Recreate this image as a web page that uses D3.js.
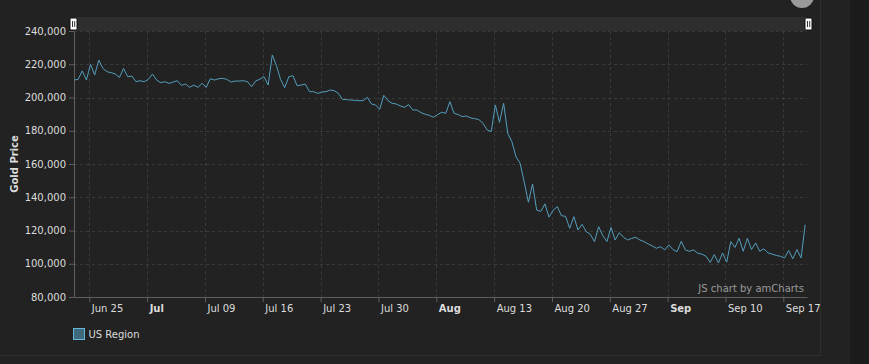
<!DOCTYPE html>
<svg width="869" height="364"></svg>
<style>
  body { margin: 0; background: #222; }
  svg { display: block; font-family: "DejaVu Sans", Verdana, sans-serif; }
</style>
<script src="https://d3js.org/d3.v7.min.js"></script>
<script>

// one reading every 12 hours, starting on the morning of Jun 23
var startDate = new Date(2018, 5, 23, 3, 33);
var endDate = new Date(2018, 8, 19, 20, 50);
var stepHours = 12;

var usRegion = [
  210500, 210900, 216000, 210500, 220000, 213500, 222500, 217500, 215500, 214900,
  214100, 212100, 217500, 212500, 212900, 209500, 210100, 209500, 210900, 214100,
  210500, 208900, 209500, 208500, 209300, 210100, 207300, 208100, 206100, 207500,
  206100, 208500, 206100, 211300, 210500, 211300, 211500, 210900, 209300, 209900,
  209900, 210100, 209500, 206500, 210000, 211000, 212500, 207500, 225600, 219200,
  210900, 205900, 212500, 213100, 207100, 207500, 208100, 203500, 203500, 202500,
  203300, 203500, 204500, 204100, 202500, 198900, 198700, 198500, 198300, 198100,
  198100, 200100, 196100, 195500, 192900, 201300, 198100, 196500, 196100, 194900,
  194100, 195700, 192500, 192500, 190900, 189900, 189300, 188100, 189700, 191100,
  190500, 197500, 190500, 189700, 188500, 188900, 187700, 187300, 186700, 184500,
  180500, 179500, 195500, 185000, 196500, 178400, 173400, 164400, 160400, 149000,
  137000, 148000, 132300, 131500, 136000, 128000, 132300, 134300, 128900, 128500,
  121300, 128300, 120300, 123700, 119300, 117700, 113300, 122300, 117000, 113300,
  121800, 114300, 118700, 116000, 114300, 115300, 115900, 114300, 113300, 111900,
  110700, 109300, 110300, 108300, 111300, 108500, 107300, 113500, 108300, 107500,
  108300, 106300, 105800, 104500, 100800, 105500, 100500, 106500, 101000, 113300,
  109800, 115300, 107500, 115300, 108500, 112500, 107500, 109000, 106500, 105800,
  105000, 104500, 103500, 108000, 103000, 108500, 103500, 123500
];

var yTicks = [80000, 100000, 120000, 140000, 160000, 180000, 200000, 220000, 240000];

var tickDates = ["2018-06-25", "2018-07-02", "2018-07-09", "2018-07-16", "2018-07-23",
  "2018-07-30", "2018-08-06", "2018-08-13", "2018-08-20", "2018-08-27",
  "2018-09-03", "2018-09-10", "2018-09-17"];
var tickLabels = ["Jun 25", "Jul", "Jul 09", "Jul 16", "Jul 23", "Jul 30", "Aug",
  "Aug 13", "Aug 20", "Aug 27", "Sep", "Sep 10", "Sep 17"];
var monthLabels = ["Jul", "Aug", "Sep"];

var svg = d3.select("svg"),
    margin = {top: 31, right: 62, bottom: 67, left: 74},
    width = +svg.attr("width") - margin.left - margin.right,
    height = +svg.attr("height") - margin.top - margin.bottom;

var parseDay = d3.timeParse("%Y-%m-%d");

var data = usRegion.map(function(v, i) {
  return {date: new Date(+startDate + i * stepHours * 3600 * 1000), value: v};
});

// page background and panel frame
svg.append("rect").attr("width", 869).attr("height", 364).attr("fill", "#222");
svg.append("rect").attr("x", 850).attr("width", 19).attr("height", 364).attr("fill", "#1b1b1b");
svg.append("line").attr("x1", 820.5).attr("x2", 820.5).attr("y1", 0).attr("y2", 355.5)
    .attr("stroke", "#2f2f2f");
svg.append("line").attr("x1", 0).attr("x2", 820.5).attr("y1", 355.5).attr("y2", 355.5)
    .attr("stroke", "#2f2f2f");
svg.append("circle").attr("cx", 802).attr("cy", -4).attr("r", 12).attr("fill", "#9a9a9a");

var g = svg.append("g").attr("transform", "translate(" + margin.left + "," + margin.top + ")");

var x = d3.scaleTime()
    .domain([startDate, endDate])
    .range([0, width]);

var y = d3.scaleLinear()
    .domain([80000, 240000])
    .range([height, 0]);

// scrollbar band
g.append("rect")
    .attr("x", 0).attr("y", -14)
    .attr("width", width).attr("height", 14)
    .attr("fill", "#2e2e2e");

// grid
g.append("g")
    .selectAll("line")
    .data(yTicks.filter(function(d) { return d > 80000; }))
    .enter().append("line")
    .attr("x1", 0).attr("x2", width)
    .attr("y1", function(d) { return Math.round(y(d)) + 0.5; })
    .attr("y2", function(d) { return Math.round(y(d)) + 0.5; })
    .attr("stroke", "#3a3a3a")
    .attr("stroke-dasharray", "3,3");

g.append("g")
    .selectAll("line")
    .data(tickDates)
    .enter().append("line")
    .attr("x1", function(d) { return Math.round(x(parseDay(d))) + 0.5; })
    .attr("x2", function(d) { return Math.round(x(parseDay(d))) + 0.5; })
    .attr("y1", 0).attr("y2", height)
    .attr("stroke", "#3a3a3a")
    .attr("stroke-dasharray", "3,3");

// x axis
var xAxis = g.append("g")
    .attr("transform", "translate(0," + height + ")")
    .call(d3.axisBottom(x)
      .tickValues(tickDates.map(parseDay))
      .tickFormat(function(d, i) { return tickLabels[i]; })
      .tickSize(5)
      .tickSizeOuter(0));

xAxis.select(".domain").attr("stroke", "#5f5f5f");
xAxis.selectAll(".tick line").attr("stroke", "#5f5f5f");
xAxis.selectAll(".tick text")
    .attr("text-anchor", "start")
    .attr("dx", 2)
    .style("font-family", "DejaVu Sans, sans-serif")
    .style("font-size", "10px")
    .style("fill", "#dcdcdc")
    .style("font-weight", function(d, i) {
      return monthLabels.indexOf(tickLabels[i]) >= 0 ? "bold" : "normal";
    });

// y axis
var yAxis = g.append("g")
    .call(d3.axisLeft(y)
      .tickValues(yTicks)
      .tickFormat(d3.format(","))
      .tickSize(5)
      .tickSizeOuter(0));

yAxis.select(".domain").attr("stroke", "#5f5f5f");
yAxis.selectAll(".tick line").attr("stroke", "#5f5f5f");
yAxis.selectAll(".tick text")
    .style("font-family", "DejaVu Sans, sans-serif")
    .style("font-size", "10px")
    .style("fill", "#dcdcdc");

// axis title
svg.append("text")
    .attr("transform", "translate(18," + (margin.top + height / 2) + ") rotate(-90)")
    .attr("text-anchor", "middle")
    .style("font-size", "10px")
    .style("font-weight", "bold")
    .style("fill", "#dcdcdc")
    .text("Gold Price");

// the series
var line = d3.line()
    .x(function(d) { return x(d.date); })
    .y(function(d) { return y(d.value); });

g.append("path")
    .datum(data)
    .attr("fill", "none")
    .attr("stroke", "#549ebd")
    .attr("stroke-width", 1)
    .attr("stroke-linejoin", "round")
    .attr("d", line);

// credit
g.append("text")
    .attr("x", width - 3)
    .attr("y", height - 5.5)
    .attr("text-anchor", "end")
    .style("font-size", "10px")
    .style("fill", "#9a9a9a")
    .text("JS chart by amCharts");

// scrollbar grips
[-0.5, width + 1.5].forEach(function(cx) {
  var h = g.append("g").attr("transform", "translate(" + cx + ",-13)");
  h.append("rect")
      .attr("x", -3.5).attr("y", 0)
      .attr("width", 7).attr("height", 12)
      .attr("rx", 1.5)
      .attr("fill", "#fff")
      .attr("stroke", "#111");
  h.append("line").attr("x1", -1).attr("x2", -1).attr("y1", 3).attr("y2", 9).attr("stroke", "#333");
  h.append("line").attr("x1", 1.2).attr("x2", 1.2).attr("y1", 3).attr("y2", 9).attr("stroke", "#333");
});

// legend
var legend = svg.append("g").attr("transform", "translate(73.5,328.5)");
legend.append("rect")
    .attr("width", 11).attr("height", 11)
    .attr("fill", "#3f6a7c")
    .attr("stroke", "#67b7dc");
legend.append("text")
    .attr("x", 15).attr("y", 9.5)
    .style("font-size", "10px")
    .style("fill", "#dcdcdc")
    .text("US Region");

</script>
